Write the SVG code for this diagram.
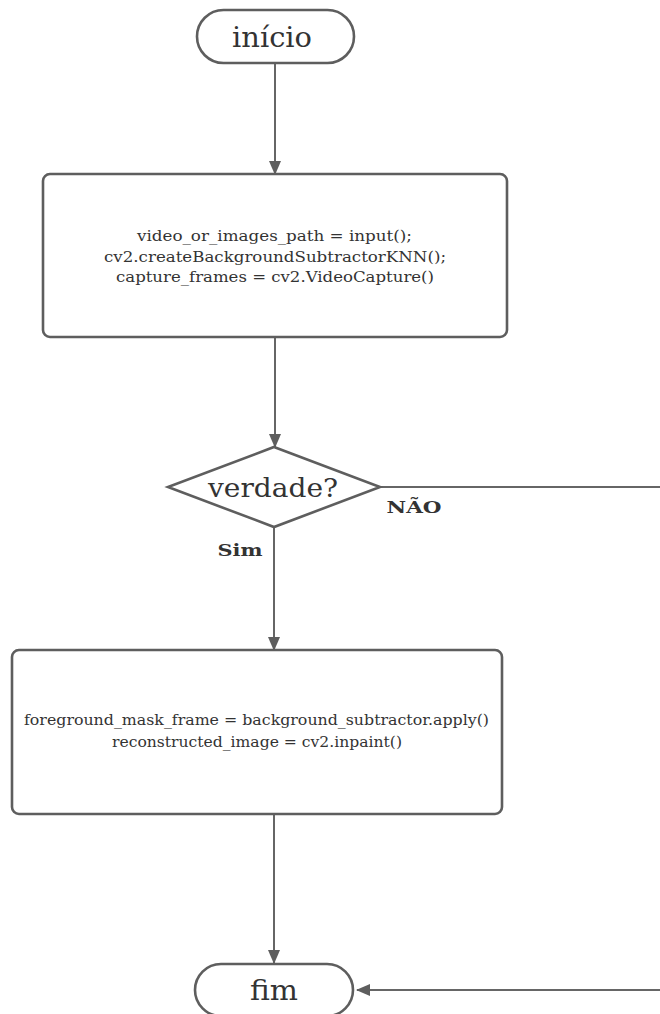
<svg xmlns="http://www.w3.org/2000/svg" width="660" height="1014" viewBox="0 0 660 1014">
<style>
.shape{fill:#fff;stroke:#5e5e5e;stroke-width:2.6}
.conn{fill:none;stroke:#666;stroke-width:2}
.t{font-family:"DejaVu Serif","Liberation Serif",serif;fill:#333;text-anchor:middle}
.code{font-size:15px}
.lbl{font-size:16px;font-weight:bold}
</style>
<defs>
<marker id="ah" markerWidth="14" markerHeight="12" refX="13" refY="6" orient="auto" markerUnits="userSpaceOnUse">
<path d="M0,0 L14,6 L0,12 Z" fill="#5e5e5e"/>
</marker>
</defs>
<rect width="660" height="1014" fill="#fff"/>
<g id="connectors">
<path class="conn" d="M275,63 L275,174" marker-end="url(#ah)"/>
<path class="conn" d="M275,338 L275,447" marker-end="url(#ah)"/>
<path class="conn" d="M274,527 L274,650" marker-end="url(#ah)"/>
<path class="conn" d="M274,814 L274,963" marker-end="url(#ah)"/>
<path class="conn" d="M380,487 L672,487 L672,990 L357,990" marker-end="url(#ah)"/>
<text class="t lbl" x="414" y="513" textLength="55" lengthAdjust="spacingAndGlyphs">NÃO</text>
<text class="t lbl" x="240" y="556" textLength="45" lengthAdjust="spacingAndGlyphs">Sim</text>
</g>
<g id="inicio">
<rect class="shape" x="197" y="10" width="157" height="53" rx="26.5"/>
<text class="t" x="272" y="47" font-size="28" textLength="80" lengthAdjust="spacingAndGlyphs">início</text>
</g>
<g id="setup">
<rect class="shape" x="43" y="174" width="464" height="163" rx="7"/>
<text class="t code" x="274.5" y="241" textLength="275" lengthAdjust="spacingAndGlyphs">video_or_images_path = input();</text>
<text class="t code" x="275" y="262" textLength="342" lengthAdjust="spacingAndGlyphs">cv2.createBackgroundSubtractorKNN();</text>
<text class="t code" x="275" y="282" textLength="318" lengthAdjust="spacingAndGlyphs">capture_frames = cv2.VideoCapture()</text>
</g>
<g id="verdade">
<polygon class="shape" points="274,447 380,487 274,527 168,487"/>
<text class="t" x="273" y="497" font-size="26" textLength="130" lengthAdjust="spacingAndGlyphs">verdade?</text>
</g>
<g id="process">
<rect class="shape" x="12" y="650" width="490" height="164" rx="7"/>
<text class="t code" x="256.5" y="725" textLength="465" lengthAdjust="spacingAndGlyphs">foreground_mask_frame = background_subtractor.apply()</text>
<text class="t code" x="257" y="747" textLength="290" lengthAdjust="spacingAndGlyphs">reconstructed_image = cv2.inpaint()</text>
</g>
<g id="fim">
<rect class="shape" x="195" y="964" width="158" height="52" rx="26"/>
<text class="t" x="274" y="1000" font-size="28" textLength="48" lengthAdjust="spacingAndGlyphs">fim</text>
</g>
</svg>
